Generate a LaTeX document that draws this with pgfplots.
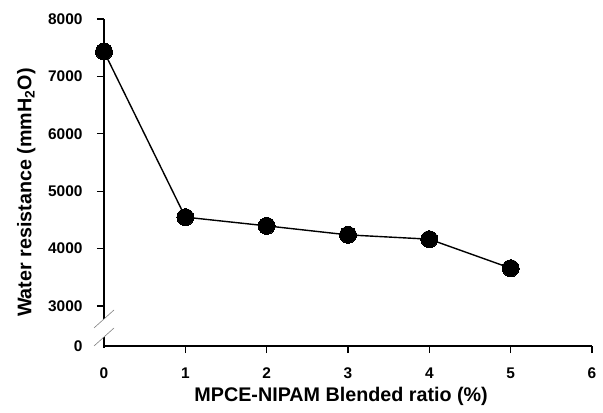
\documentclass[border=0pt]{standalone}
\usepackage{fontspec}
\setmainfont{Liberation Sans}
\usepackage{pgfplots}
\pgfplotsset{compat=1.18}

\begin{document}
\begin{tikzpicture}
\begin{axis}[
    at={(0,0)}, anchor=south west,
    scale only axis,
    width=488bp, height=327bp,
    xmin=0, xmax=6,
    ymin=2303, ymax=8000,
    axis lines=left,
    axis line style={-, line width=1.3bp},
    tick style={black, line width=1.2bp},
    tick align=outside,
    major tick length=7bp,
    xtick={0,1,2,3,4,5,6},
    xticklabels={0,1,2,3,4,5,6},
    ytick={2303,3000,4000,5000,6000,7000,8000},
    yticklabels={0,3000,4000,5000,6000,7000,8000},
    every tick label/.append style={font=\fontsize{15.5}{18}\selectfont\bfseries},
    xticklabel style={yshift=-11bp},
    yticklabel style={xshift=-11bp},
    xlabel={MPCE-NIPAM Blended ratio (\%)},
    ylabel={Water resistance (mmH\textsubscript{2}O)},
    label style={font=\fontsize{19.8}{22}\selectfont\bfseries},
    xlabel style={at={(axis description cs:0.486,-0.116)}, anchor=north},
    ylabel style={at={(axis description cs:-0.133,0.469)}, anchor=south},
    clip=false,
]
\addplot[black, line width=1.4bp, mark=*, mark size=8.5bp,
    mark options={fill=black, draw=black, line width=0pt}]
    coordinates {(0,7433) (1,4548) (2,4396) (3,4239) (4,4164) (5,3658)};
\coordinate (b1) at (axis cs:0,2774);
\coordinate (b2) at (axis cs:0,2460);
\coordinate (c0) at (axis cs:0,2303);
\end{axis}
% hide the tick stubs at the corner (the reference has none there)
\draw[white, line width=3bp] ([yshift=-1.5bp]c0) -- ([yshift=-8bp]c0);
\draw[white, line width=3bp] ([xshift=-1.5bp]c0) -- ([xshift=-8bp]c0);
% axis break
\draw[white, line width=4bp] (b1) -- (b2);
\draw[gray, line width=0.6bp] ([shift={(-10bp,-9bp)}]b1) -- ([shift={(10bp,9bp)}]b1);
\draw[gray, line width=0.6bp] ([shift={(-10bp,-9bp)}]b2) -- ([shift={(10bp,9bp)}]b2);
\path[use as bounding box] (-104bp,-67bp) rectangle (499bp,346bp);
\end{tikzpicture}
\end{document}
